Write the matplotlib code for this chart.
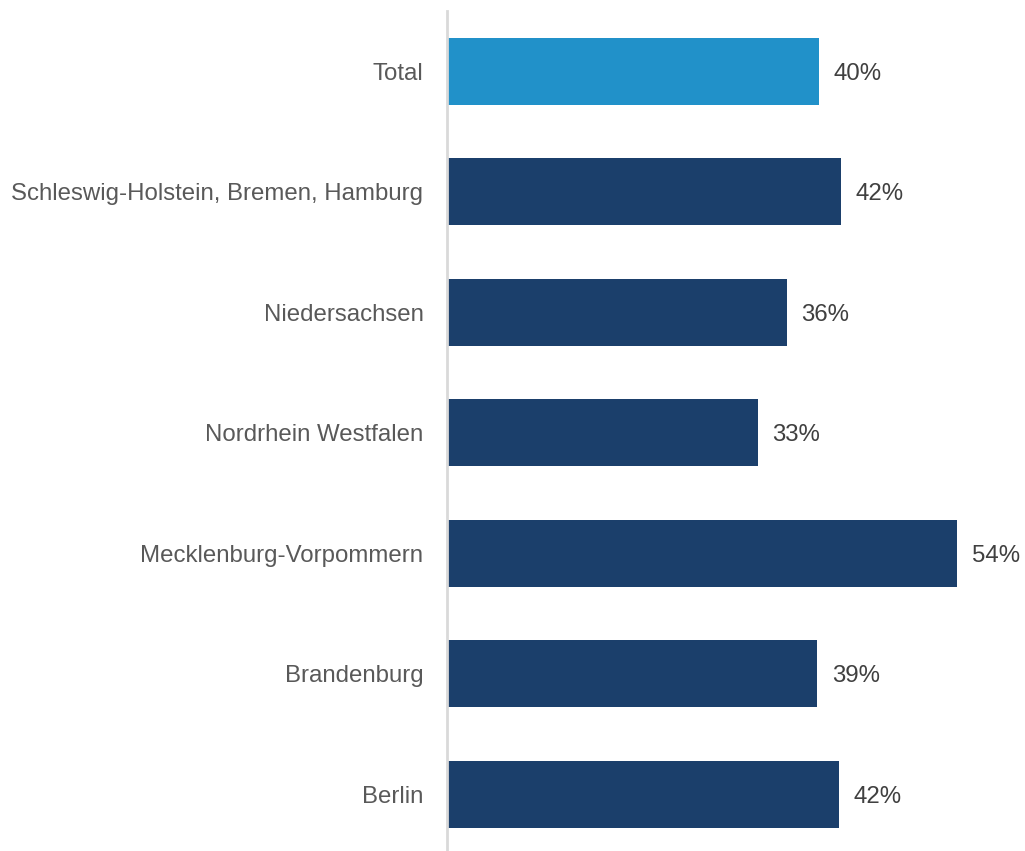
import matplotlib
matplotlib.use("Agg")
import matplotlib.pyplot as plt

categories = ["Total", "Schleswig-Holstein, Bremen, Hamburg", "Niedersachsen",
              "Nordrhein Westfalen", "Mecklenburg-Vorpommern", "Brandenburg", "Berlin"]
values = [39.4, 41.7, 36.0, 32.9, 54.0, 39.2, 41.5]
labels = ["40%", "42%", "36%", "33%", "54%", "39%", "42%"]
colors = ["#2191c9"] + ["#1b3f6b"] * 6

W, H = 1025, 851
fig = plt.figure(figsize=(W / 100, H / 100), dpi=100)
plt.rcParams['font.family'] = ['Liberation Sans', 'DejaVu Sans']
top_px = 11
ax_h = 7 * 120.5
ax = fig.add_axes([447 / W, (H - top_px - ax_h) / H, 1 - 447 / W, ax_h / H])

y = list(range(len(categories)))
ax.barh(y, values, height=0.555, color=colors, zorder=2)
ax.set_ylim(6.5, -0.5)
ax.set_xlim(0, (W - 447) / 9.444)

for yi, v, lab in zip(y, values, labels):
    ax.text(v + 1.55, yi, lab, va="center_baseline", ha="left", fontsize=17.3, color="#404040")

ax.set_yticks(y)
ax.set_yticklabels(categories, fontsize=17.3, color="#595959", va="center_baseline")
ax.tick_params(axis="y", length=0, pad=17)
ax.set_xticks([])
for s in ["top", "right", "bottom"]:
    ax.spines[s].set_visible(False)
ax.spines["left"].set_color("#d9d9d9")
ax.spines["left"].set_linewidth(2)
ax.patch.set_alpha(0)

fig.savefig("out.png", dpi=100)
